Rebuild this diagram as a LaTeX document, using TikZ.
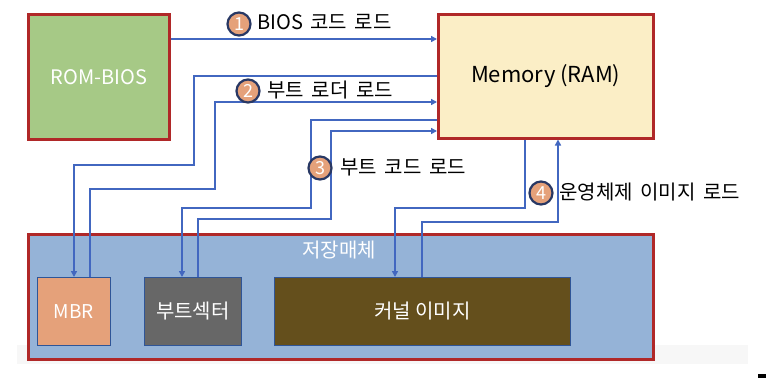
\documentclass[tikz,border=0pt]{standalone}
\usepackage{fontspec}
\setmainfont{Noto Sans CJK KR}
\newfontfamily\lblfont[WordSpace=1.7]{Noto Sans CJK KR}
\usetikzlibrary{arrows.meta}
\definecolor{bred}{RGB}{176,40,40}
\definecolor{romg}{RGB}{166,201,134}
\definecolor{memy}{RGB}{251,238,198}
\definecolor{stob}{RGB}{149,179,215}
\definecolor{mbro}{RGB}{229,161,122}
\definecolor{bsg}{RGB}{103,103,103}
\definecolor{kerb}{RGB}{100,79,28}
\definecolor{arrb}{RGB}{66,103,192}
\definecolor{navy}{RGB}{40,56,100}
\definecolor{inb}{RGB}{47,85,151}
\tikzset{
  bigbox/.style={draw=bred, line width=2.5pt, inner sep=0pt, anchor=north west},
  smallbox/.style={draw=inb, line width=0.8pt, inner sep=0pt, anchor=north west, text=white, font=\fontsize{20}{20}\selectfont},
  conn/.style={draw=arrb, line width=1.8pt},
  arr/.style={conn, -{Triangle[length=6pt,width=6pt]}},
  num/.style={circle, fill=mbro, draw=navy, line width=2.2pt, minimum size=23pt, inner sep=0pt, text=white, font=\fontsize{18}{18}\selectfont},
  lbl/.style={anchor=west, inner sep=0pt, font=\lblfont\fontsize{20}{20}\selectfont},
}
\begin{document}
\begin{tikzpicture}[x=1pt,y=-1pt]
\useasboundingbox (0,0) rectangle (766,381);
\fill[white] (0,0) rectangle (766,381);
% faint shadow
\fill[black!3] (17,345) rectangle (748,364);
% big boxes
\node[bigbox, fill=romg, minimum width=141pt, minimum height=125pt, text=white, font=\fontsize{20}{20}\selectfont] (rom) at (27,13) {ROM-BIOS};
\node[bigbox, fill=memy, minimum width=215pt, minimum height=124pt, font=\fontsize{22}{22}\selectfont] (mem) at (437,13) {Memory (RAM)};
\node[bigbox, fill=stob, minimum width=625pt, minimum height=125pt] (sto) at (27,233) {};
\node[anchor=center, text=white, font=\fontsize{20}{20}\selectfont] (stolbl) at (339,250) {저장매체};
% small boxes
\node[smallbox, fill=mbro, font=\fontsize{19}{19}\selectfont, minimum width=73pt, minimum height=68pt] (mbr) at (37,277) {MBR};
\node[smallbox, fill=bsg, minimum width=97pt, minimum height=68pt] (bs) at (144,277) {부트섹터};
\node[smallbox, fill=kerb, minimum width=296pt, minimum height=68pt] (ker) at (274,277) {커널 이미지};
% 1
\draw[arr] (rom.east |- 0,39) -- (mem.west |- 0,39);
% 2
\draw[arr] (mem.west |- 0,76) -- (194,76) -- (194,165) -- (74,165) -- (74,0 |- mbr.north);
\draw[arr] (90,0 |- mbr.north) -- (90,189) -- (215,189) -- (215,102) -- (mem.west |- 0,102);
% 3
\draw[arr] (mem.west |- 0,120) -- (311,120) -- (311,208) -- (182,208) -- (182,0 |- bs.north);
\draw[arr] (198,0 |- bs.north) -- (198,219) -- (331,219) -- (331,131) -- (mem.west |- 0,131);
% 4
\draw[arr] (525,0 |- mem.south) -- (525,208) -- (395,208) -- (395,0 |- ker.north);
\draw[arr] (422,0 |- ker.north) -- (422,222) -- (558,222) -- (558,0 |- mem.south);
% labels
\node[num] (n1) at (239,24) {1};
\node[lbl] (t1) at (257,22) {BIOS 코드 로드};
\node[num] (n2) at (248,91) {2};
\node[lbl] (t2) at (267,90) {부트 로더 로드};
\node[num] (n3) at (320,168) {3};
\node[lbl] (t3) at (340,167) {부트 코드 로드};
\node[num] (n4) at (541,193) {4};
\node[lbl] (t4) at (559,192) {운영체제 이미지 로드};
% stray mark
\fill[black] (758,374) rectangle (766,377.5);
\end{tikzpicture}
\end{document}
